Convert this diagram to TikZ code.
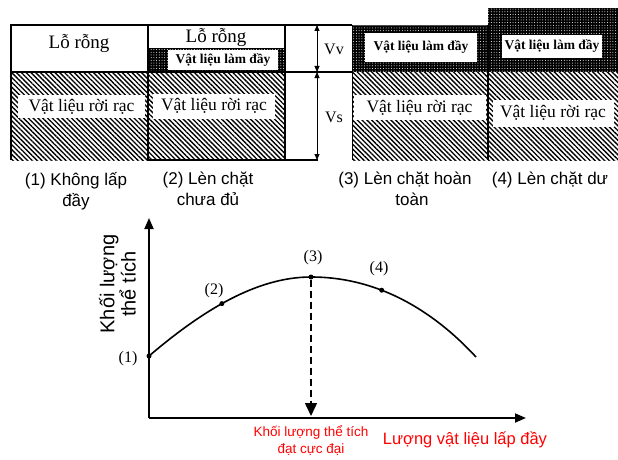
\documentclass[tikz,border=0pt]{standalone}
\usepackage{fontspec}
\setmainfont{Liberation Serif}
\setsansfont{Liberation Sans}
\usetikzlibrary{arrows.meta,patterns.meta}

\tikzset{
  hatch/.style={pattern={Lines[angle=-45,distance=3.4pt,line width=1.35pt]},pattern color=black},
  dense/.style={fill=black,postaction={pattern={Dots[radius=0.5pt,distance=2.7pt]},pattern color=white}},
  rrbox/.style={fill=white,inner sep=0pt,font=\fontsize{17.5}{20}\selectfont},
  fillbox/.style={fill=white,inner sep=0pt,font=\bfseries\fontsize{13.5}{16}\selectfont},
  voidtext/.style={inner sep=0pt,font=\fontsize{19}{22}\selectfont},
  border/.style={line width=1.3pt},
  caption/.style={inner sep=0pt,align=center,font=\sffamily\fontsize{17}{21}\selectfont},
  vol/.style={{Triangle[length=6pt,width=5pt]}-{Triangle[length=6pt,width=5pt]},line width=0.9pt},
  axis/.style={line width=1.8pt,-{Triangle[length=11pt,width=9pt]}},
  ptlabel/.style={inner sep=0pt,font=\fontsize{16}{18}\selectfont},
  dot/.style={circle,fill=black,inner sep=0pt,minimum size=5pt},
  redtext/.style={inner sep=0pt,align=center,text=red,font=\sffamily},
}

\begin{document}
\begin{tikzpicture}[x=1pt,y=-1pt]
\useasboundingbox (0,0) rectangle (618,460);
\fill[white] (0,0) rectangle (618,460);

% ---- four packing states ----
% (1) no filler
\fill[hatch] (11,72) rectangle (148,160);
\node[rrbox,minimum width=127pt,minimum height=23pt] (rr1) at (81.5,106.5) {Vật liệu rời rạc};
\node[voidtext] (void1) at (79,43) {Lỗ rỗng};

% (2) partial filling
\fill[hatch] (148,72) rectangle (285,160);
\fill[dense] (148,48) rectangle (285,72);
\node[fillbox,minimum width=110pt,minimum height=20pt] (fill2) at (223,60) {Vật liệu làm đầy};
\node[rrbox,minimum width=122pt,minimum height=25pt] (rr2) at (214,106) {Vật liệu rời rạc};
\node[voidtext] (void2) at (216,38) {Lỗ rỗng};

% (3) complete filling
\fill[dense] (352,25) rectangle (488,72);
\fill[hatch] (352,72) rectangle (488,160);
\node[fillbox,minimum width=112pt,minimum height=29pt] (fill3) at (421,47.5) {Vật liệu làm đầy};
\node[rrbox,minimum width=132pt,minimum height=25pt] (rr3) at (419.5,107.5) {Vật liệu rời rạc};

% (4) excess filling
\fill[dense] (488,8) rectangle (618,72);
\fill[hatch] (488,72) rectangle (618,160);
\node[fillbox,minimum width=100pt,minimum height=23pt] (fill4) at (552,46.5) {Vật liệu làm đầy};
\node[rrbox,minimum width=121pt,minimum height=27pt] (rr4) at (553,113) {Vật liệu rời rạc};

% frame lines
\draw[border] (11,160) -- (11,25) -- (352,25);
\draw[border] (148,25) -- (148,160);
\draw[border] (285,25) -- (285,160);
\draw[border] (11,72) -- (352,72);
\draw[line width=1.8pt] (148,160) -- (285,160);
\draw[border] (285,160) -- (318,160);
\draw[line width=0.6pt,black!70] (352,25) -- (488,25);
\draw[line width=0.6pt] (352,25) -- (352,160);
\draw[line width=1.1pt] (488,25) -- (488,160);

% volume arrows
\coordinate (vtop) at (317,25);
\coordinate (vmid) at (317,72);
\coordinate (vbot) at (317,160);
\draw[vol] (vtop) -- (vmid);
\draw[vol] (vmid) -- (vbot);
\node[ptlabel] (vv) at (334,49) {Vv};
\node[ptlabel] (vs) at (334,117) {Vs};

% captions
\node[caption,anchor=north] (c1) at (76,172) {(1) Không lấp\\đầy};
\node[caption,anchor=north] (c2) at (208,172) {(2) Lèn chặt\\chưa đủ};
\node[caption,anchor=north] (c3) at (405,172) {(3) Lèn chặt hoàn\\\hspace*{14pt}toàn};
\node[caption,anchor=north] (c4) at (550,172) {(4) Lèn chặt dư};

% ---- compaction curve ----
\coordinate (O) at (149,418);
\coordinate (ytip) at (149,218);
\coordinate (xtip) at (526,418);
\draw[axis] (O) -- (ytip);
\draw[axis] (O) -- (xtip);

\coordinate (p1) at (149,356);
\coordinate (p3) at (311,277);
\coordinate (pend) at (476,357);
\draw[line width=1.6pt] (p1) .. controls (203,310) and (257,277) .. (p3)
  coordinate[pos=0.45] (p2);
\draw[line width=1.6pt] (p3) .. controls (385,277) and (440,318) .. (pend)
  coordinate[pos=0.35] (p4);

\node[dot] (d1) at (p1) {};
\node[dot] (d2) at (p2) {};
\node[dot] (d3) at (p3) {};
\node[dot] (d4) at (p4) {};

\node[ptlabel] (l1) at (128,359) {(1)};
\node[ptlabel] (l2) at (214,291) {(2)};
\node[ptlabel] (l3) at (313,258) {(3)};
\node[ptlabel] (l4) at (379,269) {(4)};

\coordinate (peakfoot) at (311,416);
\draw[line width=1.5pt,dash pattern=on 7pt off 4pt,-{Triangle[length=13pt,width=12pt]}] (d3) -- (peakfoot);

\node[inner sep=0pt,align=center,rotate=90,font=\sffamily\fontsize{20}{19}\selectfont] (ylab) at (117.5,284) {Khối lượng\\thể tích};

\node[redtext,font=\sffamily\fontsize{13.5}{17}\selectfont] (peaklab) at (311,441) {Khối lượng thể tích\\đạt cực đại};
\node[redtext,font=\sffamily\fontsize{16.5}{19}\selectfont] (xlab) at (465,440) {Lượng vật liệu lấp đầy};
\end{tikzpicture}
\end{document}
